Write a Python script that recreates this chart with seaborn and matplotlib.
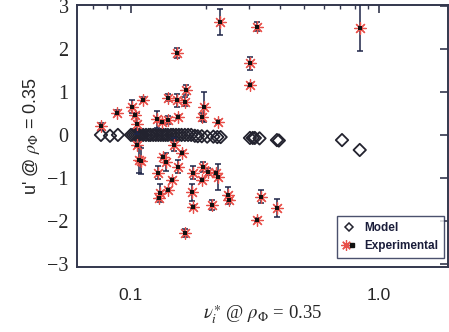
import numpy as np
import pandas as pd
import matplotlib
matplotlib.use("Agg")
import matplotlib.pyplot as plt
import seaborn as sns
from matplotlib.ticker import FixedLocator, MultipleLocator, NullFormatter, FixedFormatter
from matplotlib.lines import Line2D
from matplotlib.legend_handler import HandlerTuple

# Experimental fluctuation amplitude vs collisionality, with uncertainties
exp_nu = [0.076, 0.088, 0.101, 0.104, 0.106, 0.112, 0.127, 0.133, 0.141, 0.141,
          0.153, 0.167, 0.165, 0.155, 0.153, 0.197, 0.193, 0.224, 0.228, 0.322,
          0.302, 0.302, 0.84,
          0.106, 0.108, 0.110, 0.128, 0.135, 0.138, 0.149, 0.161, 0.155, 0.131,
          0.130, 0.141, 0.146, 0.165, 0.178, 0.177, 0.178, 0.195, 0.193, 0.205,
          0.213, 0.224, 0.221, 0.246, 0.248, 0.322, 0.334, 0.388]
exp_u = [0.20, 0.52, 0.66, 0.47, 0.26, 0.82, 0.36, 0.30, 0.35, 0.86,
         0.81, 1.05, 0.77, 0.42, 1.90, 0.64, 0.42, 0.30, 2.63, 2.52,
         1.67, 1.16, 2.49,
         -0.23, -0.58, -0.60, -0.88, -0.51, -0.63, -0.23, -0.42, -0.74, -1.35,
         -1.46, -1.28, -1.05, -2.28, -0.88, -1.33, -1.67, -0.74, -1.05, -0.86,
         -1.63, -0.98, -0.88, -1.40, -1.51, -1.98, -1.44, -1.70]
exp_err = [0.08, 0.05, 0.15, 0.05, 0.25, 0.05, 0.20, 0.05, 0.10, 0.08,
           0.15, 0.12, 0.10, 0.05, 0.12, 0.35, 0.10, 0.05, 0.30, 0.10,
           0.15, 0.05, 0.55,
           0.05, 0.30, 0.30, 0.15, 0.05, 0.20, 0.15, 0.05, 0.15, 0.20,
           0.05, 0.05, 0.05, 0.10, 0.15, 0.20, 0.05, 0.12, 0.05, 0.08,
           0.12, 0.30, 0.05, 0.20, 0.05, 0.05, 0.15, 0.20]

# Model predictions
model_nu = [0.0757, 0.0823, 0.0886,
            0.100, 0.102, 0.104, 0.106, 0.108, 0.110, 0.112, 0.115, 0.118, 0.120,
            0.123, 0.126, 0.129, 0.132, 0.135, 0.138, 0.141, 0.145, 0.148, 0.152,
            0.156, 0.160, 0.165, 0.170, 0.175, 0.181, 0.186, 0.193, 0.203, 0.215,
            0.223, 0.230, 0.302, 0.310, 0.316, 0.330, 0.388, 0.395, 0.71, 0.837]
model_u = [0.0, -0.02, 0.0,
           0.0, 0.0, 0.0, 0.0, 0.0, 0.0, 0.0, 0.0, 0.0, 0.0,
           0.0, 0.0, 0.0, 0.0, 0.0, 0.0, 0.0, 0.0, 0.0, 0.0,
           0.0, 0.0, 0.0, 0.0, 0.0, -0.02, -0.03, -0.03, -0.04, -0.04,
           -0.05, -0.05, -0.07, -0.07, -0.07, -0.08, -0.12, -0.13, -0.12, -0.35]

x_ticks = [0.1, 1.0]
x_tick_labels = ["0.1", "1.0"]
y_ticks = [-3, -2, -1, 0, 1, 2, 3]

exp_df = pd.DataFrame({"nu": exp_nu, "u": exp_u, "err": exp_err})
model_df = pd.DataFrame({"nu": model_nu, "u": model_u})

sns.set_style("white")
plt.rcParams["mathtext.fontset"] = "stix"

axis_col = "#33374d"
red = "#e8504a"
bar_col = "#1e2548"

fig = plt.figure(figsize=(4.49, 3.32), dpi=100)
ax = fig.add_axes([77 / 449, 65 / 332, 371 / 449, 262 / 332])
ax.set_xscale("log")

# Model diamonds
sns.scatterplot(data=model_df, x="nu", y="u", ax=ax, marker="D", s=40,
                facecolor="none", edgecolor="#23232f", linewidth=1.3, zorder=3)

# Experimental: error bars, red asterisks, black centres
ax.errorbar(exp_df["nu"], exp_df["u"], yerr=exp_df["err"], fmt="none",
            ecolor=bar_col, elinewidth=1.1, capsize=2, capthick=1.1, zorder=4)
sns.scatterplot(data=exp_df, x="nu", y="u", ax=ax, marker=(8, 2, 0), s=70,
                color=red, linewidth=0.9, zorder=5)
sns.scatterplot(data=exp_df, x="nu", y="u", ax=ax, marker="s", s=8,
                color="#111111", linewidth=0, zorder=6)

ax.set_xlim(0.0606, 1.9)
ax.set_ylim(-3.07, 3.02)

for s in ax.spines.values():
    s.set_color(axis_col)
    s.set_linewidth(1.4)

ax.xaxis.set_major_locator(FixedLocator(x_ticks))
ax.xaxis.set_major_formatter(FixedFormatter(x_tick_labels))
minor_x = [0.07, 0.08, 0.09, 0.2, 0.3, 0.4, 0.5, 0.6, 0.7, 0.8, 0.9]
ax.xaxis.set_minor_locator(FixedLocator(minor_x))
ax.xaxis.set_minor_formatter(NullFormatter())
ax.yaxis.set_major_locator(FixedLocator(y_ticks))
ax.yaxis.set_minor_locator(MultipleLocator(0.1))

ax.tick_params(axis="both", which="both", direction="in", color=axis_col,
               top=True, right=True)
ax.tick_params(axis="both", which="major", length=6, width=1.2)
ax.tick_params(axis="both", which="minor", length=3, width=1.0)
ax.tick_params(axis="y", which="minor", right=False)
ax.tick_params(axis="x", which="major", pad=15, labelsize=12.5)
ax.tick_params(axis="y", which="major", pad=6, labelsize=14.5)
for lab in ax.get_xticklabels():
    lab.set_fontfamily("Liberation Sans")
ax.set_yticklabels([str(v).replace("-", "\u2212") for v in y_ticks],
                   fontfamily="Liberation Serif")

ax.set_xlabel(r"$\nu_i^{\ast}$ @ $\rho_\Phi$ = 0.35", fontfamily="Liberation Serif",
              fontsize=13.5, labelpad=0)
ax.set_ylabel(r"u' @ $\rho_\Phi$ = 0.35", fontfamily="Liberation Sans",
              fontsize=13, labelpad=4)

h_model = Line2D([], [], linestyle="none", marker="D", markersize=4,
                 markerfacecolor="none", markeredgecolor="#23232f", markeredgewidth=1.1)
h_star = Line2D([], [], linestyle="none", marker=(8, 2, 0), markersize=7.5,
                color=red, markeredgewidth=0.9)
h_dot = Line2D([], [], linestyle="none", marker="s", markersize=2.5, color="#111111")
leg = ax.legend([h_model, (h_star, h_dot)], ["Model", "Experimental"],
                handler_map={tuple: HandlerTuple(ndivide=None, pad=0)},
                loc="lower right", bbox_to_anchor=(0.99, 0.034),
                prop={"family": "Liberation Sans", "weight": "bold", "size": 8.5},
                frameon=True, fancybox=False, handlelength=1.0, handletextpad=0.8,
                borderpad=0.5, labelspacing=0.5, borderaxespad=0)
leg.get_frame().set_edgecolor(bar_col)
leg.get_frame().set_linewidth(1.0)
for t in leg.get_texts():
    t.set_color("#1a1d3a")

fig.savefig("out.png", dpi=100)
